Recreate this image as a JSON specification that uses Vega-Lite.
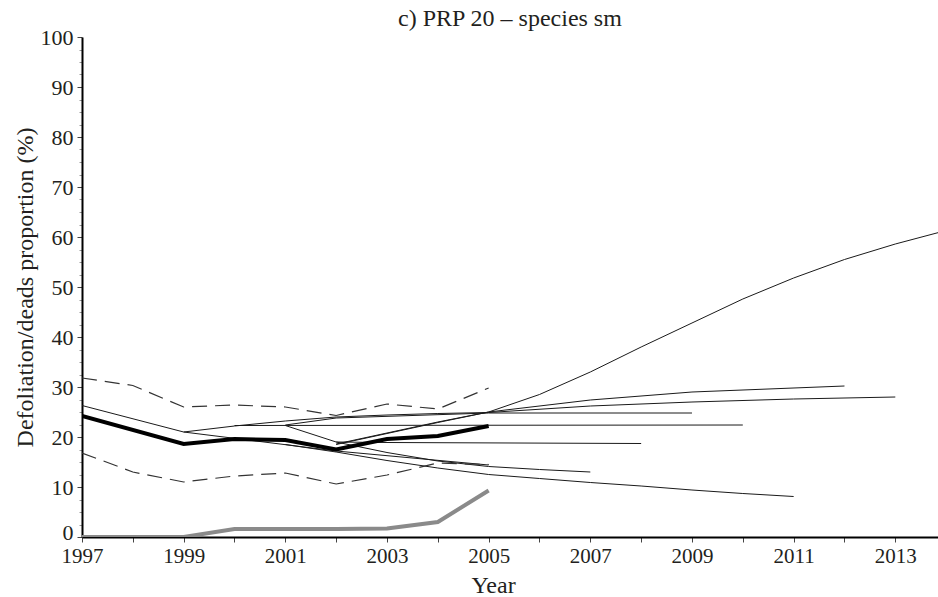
{
  "$schema": "https://vega.github.io/schema/vega-lite/v6.json",
  "width": 856,
  "height": 500,
  "autosize": {"type": "none"},
  "padding": {"left": 82, "top": 37, "right": 0, "bottom": 60},
  "background": "white",
  "config": {"view": {"stroke": null}, "font": "Liberation Serif"},
  "title": {"text": "c) PRP 20 – species sm", "font": "Liberation Serif", "fontSize": 24, "fontWeight": "normal", "color": "#231f20", "anchor": "middle", "offset": 4, "dy": 9},
  "data": {"values": [
    {"kind": "obs", "series": "obs", "year": 1997, "value": 24.2},
    {"kind": "obs", "series": "obs", "year": 1999, "value": 18.6},
    {"kind": "obs", "series": "obs", "year": 2000, "value": 19.6},
    {"kind": "obs", "series": "obs", "year": 2001, "value": 19.4},
    {"kind": "obs", "series": "obs", "year": 2002, "value": 17.5},
    {"kind": "obs", "series": "obs", "year": 2003, "value": 19.6},
    {"kind": "obs", "series": "obs", "year": 2004, "value": 20.2},
    {"kind": "obs", "series": "obs", "year": 2005, "value": 22.2},
    {"kind": "dead", "series": "dead", "year": 1997, "value": 0},
    {"kind": "dead", "series": "dead", "year": 1999, "value": 0},
    {"kind": "dead", "series": "dead", "year": 2000, "value": 1.6},
    {"kind": "dead", "series": "dead", "year": 2001, "value": 1.6},
    {"kind": "dead", "series": "dead", "year": 2002, "value": 1.6},
    {"kind": "dead", "series": "dead", "year": 2003, "value": 1.7},
    {"kind": "dead", "series": "dead", "year": 2004, "value": 3.0},
    {"kind": "dead", "series": "dead", "year": 2005, "value": 9.3},
    {"kind": "dash", "series": "upper", "year": 1997, "value": 31.8},
    {"kind": "dash", "series": "upper", "year": 1998, "value": 30.3},
    {"kind": "dash", "series": "upper", "year": 1999, "value": 26.0},
    {"kind": "dash", "series": "upper", "year": 2000, "value": 26.4},
    {"kind": "dash", "series": "upper", "year": 2001, "value": 26.0},
    {"kind": "dash", "series": "upper", "year": 2002, "value": 24.3},
    {"kind": "dash", "series": "upper", "year": 2003, "value": 26.6},
    {"kind": "dash", "series": "upper", "year": 2004, "value": 25.6},
    {"kind": "dash", "series": "upper", "year": 2005, "value": 29.8},
    {"kind": "dash", "series": "lower", "year": 1997, "value": 16.8},
    {"kind": "dash", "series": "lower", "year": 1998, "value": 13.0},
    {"kind": "dash", "series": "lower", "year": 1999, "value": 11.0},
    {"kind": "dash", "series": "lower", "year": 2000, "value": 12.2},
    {"kind": "dash", "series": "lower", "year": 2001, "value": 12.8},
    {"kind": "dash", "series": "lower", "year": 2002, "value": 10.6},
    {"kind": "dash", "series": "lower", "year": 2003, "value": 12.4},
    {"kind": "dash", "series": "lower", "year": 2004, "value": 14.8},
    {"kind": "dash", "series": "lower", "year": 2005, "value": 14.5},
    {"kind": "thin", "series": "A", "year": 1997, "value": 26.3},
    {"kind": "thin", "series": "A", "year": 1999, "value": 21.0},
    {"kind": "thin", "series": "A", "year": 2002, "value": 17.2},
    {"kind": "thin", "series": "A", "year": 2005, "value": 14.4},
    {"kind": "thin", "series": "B", "year": 2001, "value": 18.5},
    {"kind": "thin", "series": "B", "year": 2002, "value": 17.0},
    {"kind": "thin", "series": "B", "year": 2003, "value": 15.3},
    {"kind": "thin", "series": "B", "year": 2004, "value": 13.8},
    {"kind": "thin", "series": "B", "year": 2005, "value": 12.5},
    {"kind": "thin", "series": "B", "year": 2006, "value": 11.7},
    {"kind": "thin", "series": "B", "year": 2007, "value": 10.9},
    {"kind": "thin", "series": "B", "year": 2008, "value": 10.2},
    {"kind": "thin", "series": "B", "year": 2009, "value": 9.4},
    {"kind": "thin", "series": "B", "year": 2010, "value": 8.7},
    {"kind": "thin", "series": "B", "year": 2011, "value": 8.1},
    {"kind": "thin", "series": "C", "year": 2001, "value": 22.3},
    {"kind": "thin", "series": "C", "year": 2002, "value": 19.0},
    {"kind": "thin", "series": "C", "year": 2003, "value": 16.9},
    {"kind": "thin", "series": "C", "year": 2004, "value": 15.2},
    {"kind": "thin", "series": "C", "year": 2005, "value": 14.1},
    {"kind": "thin", "series": "C", "year": 2006, "value": 13.5},
    {"kind": "thin", "series": "C", "year": 2007, "value": 13.0},
    {"kind": "thin", "series": "D", "year": 2002, "value": 19.0},
    {"kind": "thin", "series": "D", "year": 2003, "value": 18.9},
    {"kind": "thin", "series": "D", "year": 2008, "value": 18.7},
    {"kind": "thin", "series": "E", "year": 2000, "value": 22.3},
    {"kind": "thin", "series": "E", "year": 2010, "value": 22.4},
    {"kind": "thin", "series": "F", "year": 1999, "value": 21.0},
    {"kind": "thin", "series": "F", "year": 2000, "value": 22.2},
    {"kind": "thin", "series": "F", "year": 2001, "value": 23.2},
    {"kind": "thin", "series": "F", "year": 2002, "value": 24.0},
    {"kind": "thin", "series": "F", "year": 2003, "value": 24.4},
    {"kind": "thin", "series": "F", "year": 2004, "value": 24.7},
    {"kind": "thin", "series": "F", "year": 2005, "value": 24.9},
    {"kind": "thin", "series": "F", "year": 2007, "value": 26.2},
    {"kind": "thin", "series": "F", "year": 2009, "value": 27.0},
    {"kind": "thin", "series": "F", "year": 2011, "value": 27.6},
    {"kind": "thin", "series": "F", "year": 2013, "value": 28.0},
    {"kind": "thin", "series": "H", "year": 2001, "value": 22.4},
    {"kind": "thin", "series": "H", "year": 2002, "value": 23.8},
    {"kind": "thin", "series": "H", "year": 2005, "value": 24.8},
    {"kind": "thin", "series": "H", "year": 2009, "value": 24.8},
    {"kind": "thin", "series": "G", "year": 2002, "value": 18.6},
    {"kind": "thin", "series": "G", "year": 2003, "value": 20.8},
    {"kind": "thin", "series": "G", "year": 2004, "value": 23.0},
    {"kind": "thin", "series": "G", "year": 2005, "value": 25.0},
    {"kind": "thin", "series": "G", "year": 2007, "value": 27.4},
    {"kind": "thin", "series": "G", "year": 2009, "value": 29.0},
    {"kind": "thin", "series": "G", "year": 2012, "value": 30.2},
    {"kind": "thin", "series": "I", "year": 2002, "value": 18.5},
    {"kind": "thin", "series": "I", "year": 2003, "value": 20.7},
    {"kind": "thin", "series": "I", "year": 2004, "value": 22.9},
    {"kind": "thin", "series": "I", "year": 2005, "value": 25.0},
    {"kind": "thin", "series": "I", "year": 2006, "value": 28.5},
    {"kind": "thin", "series": "I", "year": 2007, "value": 33.0},
    {"kind": "thin", "series": "I", "year": 2008, "value": 38.0},
    {"kind": "thin", "series": "I", "year": 2009, "value": 42.8},
    {"kind": "thin", "series": "I", "year": 2010, "value": 47.6},
    {"kind": "thin", "series": "I", "year": 2011, "value": 51.8},
    {"kind": "thin", "series": "I", "year": 2012, "value": 55.5},
    {"kind": "thin", "series": "I", "year": 2013, "value": 58.6},
    {"kind": "thin", "series": "I", "year": 2014, "value": 61.3}
  ]},
  "encoding": {
    "x": {
      "field": "year", "type": "quantitative",
      "scale": {"domain": [1997, 2013.84], "nice": false, "zero": false},
      "axis": {
        "title": "Year",
        "titleX": 411,
        "values": [1997, 1997.25, 1997.5, 1997.75, 1998, 1998.25, 1998.5, 1998.75, 1999, 1999.25, 1999.5, 1999.75, 2000, 2000.25, 2000.5, 2000.75, 2001, 2001.25, 2001.5, 2001.75, 2002, 2002.25, 2002.5, 2002.75, 2003, 2003.25, 2003.5, 2003.75, 2004, 2004.25, 2004.5, 2004.75, 2005, 2005.25, 2005.5, 2005.75, 2006, 2006.25, 2006.5, 2006.75, 2007, 2007.25, 2007.5, 2007.75, 2008, 2008.25, 2008.5, 2008.75, 2009, 2009.25, 2009.5, 2009.75, 2010, 2010.25, 2010.5, 2010.75, 2011, 2011.25, 2011.5, 2011.75, 2012, 2012.25, 2012.5, 2012.75, 2013, 2013.25, 2013.5, 2013.75],
        "format": "d",
        "labelExpr": "(datum.value - 1997) % 2 === 0 ? datum.label : ''",
        "labelOverlap": false,
        "labelFlush": false,
        "labelFont": "Liberation Serif",
        "labelFontSize": 21,
        "labelColor": "#231f20",
        "labelPadding": 3,
        "labelDx": -8,
        "tickSize": {"condition": {"test": "datum.value % 1 === 0", "value": 5}, "value": 3},
        "tickColor": {"condition": {"test": "datum.value % 1 === 0", "value": "#444"}, "value": "#999"},
        "tickWidth": 1,
        "domainColor": "#000",
        "domainWidth": 2,
        "grid": false,
        "titleFont": "Liberation Serif",
        "titleFontSize": 24,
        "titleFontWeight": "normal",
        "titleColor": "#231f20",
        "titlePadding": 7
      }
    },
    "y": {
      "field": "value", "type": "quantitative",
      "scale": {"domain": [0, 100], "nice": false},
      "axis": {
        "title": "Defoliation/deads proportion (%)",
        "values": [0, 2.5, 5, 7.5, 10, 12.5, 15, 17.5, 20, 22.5, 25, 27.5, 30, 32.5, 35, 37.5, 40, 42.5, 45, 47.5, 50, 52.5, 55, 57.5, 60, 62.5, 65, 67.5, 70, 72.5, 75, 77.5, 80, 82.5, 85, 87.5, 90, 92.5, 95, 97.5, 100],
        "labelExpr": "datum.value % 10 === 0 ? datum.label : ''",
        "labelOverlap": false,
        "labelFlush": false,
        "labelFont": "Liberation Serif",
        "labelFontSize": 22,
        "labelColor": "#231f20",
        "labelPadding": 4,
        "labelOffset": {"condition": {"test": "datum.value === 0", "value": -5}, "value": 0},
        "tickSize": {"condition": {"test": "datum.value % 10 === 0", "value": 5}, "value": 3},
        "tickColor": {"condition": {"test": "datum.value % 10 === 0", "value": "#444"}, "value": "#999"},
        "tickWidth": 1,
        "domainColor": "#000",
        "domainWidth": 2,
        "grid": false,
        "titleFont": "Liberation Serif",
        "titleFontSize": 24,
        "titleFontWeight": "normal",
        "titleColor": "#231f20",
        "titlePadding": 3
      }
    }
  },
  "layer": [
    {
      "transform": [{"filter": "datum.kind === 'thin'"}],
      "mark": {"type": "line", "stroke": "#1a1a1a", "strokeWidth": 1, "clip": true},
      "encoding": {"detail": {"field": "series", "type": "nominal"}}
    },
    {
      "transform": [{"filter": "datum.kind === 'dash'"}],
      "mark": {"type": "line", "stroke": "#333", "strokeWidth": 1.2, "strokeDash": [15, 8], "clip": true},
      "encoding": {"detail": {"field": "series", "type": "nominal"}}
    },
    {
      "transform": [{"filter": "datum.kind === 'dead'"}],
      "mark": {"type": "line", "stroke": "#8a8a8a", "strokeWidth": 4, "clip": true},
      "encoding": {}
    },
    {
      "transform": [{"filter": "datum.kind === 'obs'"}],
      "mark": {"type": "line", "stroke": "#000", "strokeWidth": 4, "clip": true},
      "encoding": {}
    }
  ]
}
